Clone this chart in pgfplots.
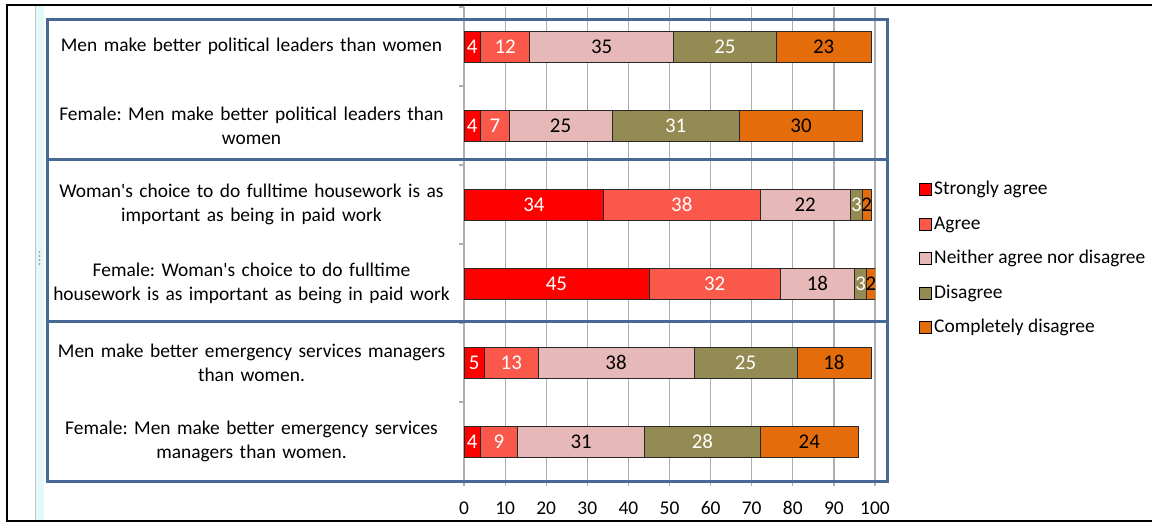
\documentclass[border=0pt]{standalone}
\usepackage{pgfplots}
\pgfplotsset{compat=1.18}
\usepackage{fontspec}
\setmainfont{Carlito}
\frenchspacing
\definecolor{csa}{RGB}{255,0,0}
\definecolor{cag}{RGB}{250,88,74}
\definecolor{cne}{RGB}{230,185,184}
\definecolor{cdi}{RGB}{148,138,84}
\definecolor{ccd}{RGB}{228,108,10}
\definecolor{cbox}{RGB}{70,105,150}
\definecolor{cgrid}{RGB}{175,175,175}
\definecolor{cedge}{RGB}{40,40,40}
\pgfplotsset{sqlegend/.style={legend image code/.code={\draw[##1,draw=black,line width=0.9bp] (0bp,-6bp) rectangle (12bp,6bp);}}}
\begin{document}
\begin{tikzpicture}[x=1bp,y=1bp]
\useasboundingbox (0,0) rectangle (1152,523);
% light strip at the left
\fill[fill={rgb,255:red,228;green,248;blue,250}] (35,2.5) rectangle (44,516.5);
\draw[gray!45,line width=0.8bp] (35.5,2.5) -- (35.5,516.5);
\foreach \yy in {271,267,263,259} \fill[gray!70] (39.5,\yy) circle (1.1);
\begin{axis}[
  at={(464bp,42bp)}, anchor=south west,
  width=411bp, height=474bp, scale only axis,
  xbar stacked, bar width=0.39,
  xmin=0, xmax=100, ymin=-0.5, ymax=5.5, y dir=reverse,
  axis x line*=bottom, axis y line*=left,
  axis line style={cgrid, line width=1.2bp},
  xtick={0,10,...,100},
  xmajorgrids, grid style={cgrid, line width=1.2bp},
  tick align=outside,
  major tick length=5bp, minor tick length=5bp,
  xtick style={cgrid, line width=1.2bp},
  ytick={0,1,2,3,4,5},
  minor ytick={-0.5,0.5,1.5,2.5,3.5,4.5,5.5},
  major y tick style={draw=none},
  minor y tick style={cgrid, line width=1.2bp},
  yticklabels={
    {Men make better political leaders than women},
    {Female: Men make better political leaders than\\women},
    {Woman\textquotesingle s choice to do fulltime housework  is as\\important as being in paid work},
    {Female: Woman\textquotesingle s choice to do fulltime\\housework is as important as being in paid work},
    {Men make better emergency services managers\\than women.},
    {Female: Men make better emergency services\\managers than women.}},
  yticklabel style={text width=400bp, align=center, font=\fontsize{19.5}{24}\selectfont, xshift=-4bp},
  xticklabel style={font=\fontsize{19.5}{23}\selectfont, yshift=-12bp},
  /pgf/number format/assume math mode=true,
  nodes near coords,
  every node near coord/.append style={anchor=center, font=\fontsize{21}{24}\selectfont},
  legend cell align=left,
  legend style={at={(axis description cs:1.1,0.64)}, anchor=north west, draw=none, fill=none,
    font=\fontsize{19.5}{23}\selectfont, row sep=14.5bp,
    nodes={inner sep=1bp, text height=14bp, text depth=4bp},
    /tikz/every odd column/.append style={column sep=1bp}},
]
\addplot[fill=csa, draw=cedge, line width=0.8bp, sqlegend, every node near coord/.append style={text=white}]
  coordinates {(4,0) (4,1) (34,2) (45,3) (5,4) (4,5)};
\addplot[fill=cag, draw=cedge, line width=0.8bp, sqlegend, every node near coord/.append style={text=white}]
  coordinates {(12,0) (7,1) (38,2) (32,3) (13,4) (9,5)};
\addplot[fill=cne, draw=cedge, line width=0.8bp, sqlegend, every node near coord/.append style={text=black}]
  coordinates {(35,0) (25,1) (22,2) (18,3) (38,4) (31,5)};
\addplot[fill=cdi, draw=cedge, line width=0.8bp, sqlegend, every node near coord/.append style={text=white}]
  coordinates {(25,0) (31,1) (3,2) (3,3) (25,4) (28,5)};
\addplot[fill=ccd, draw=cedge, line width=0.8bp, sqlegend, every node near coord/.append style={text=black}]
  coordinates {(23,0) (30,1) (2,2) (2,3) (18,4) (24,5)};
\legend{Strongly agree, Agree, Neither agree nor disagree, Disagree, Completely disagree}
\end{axis}
% group boxes
\draw[cbox, line width=3bp] (47,503) rectangle (887,41.5);
\draw[cbox, line width=3bp] (47,363) -- (887,363);
\draw[cbox, line width=3bp] (47,201) -- (887,201);
% outer frame
\draw[black, line width=2bp] (1153,517.5) -- (6.5,517.5) -- (6.5,1.5) -- (1153,1.5);
\end{tikzpicture}
\end{document}
